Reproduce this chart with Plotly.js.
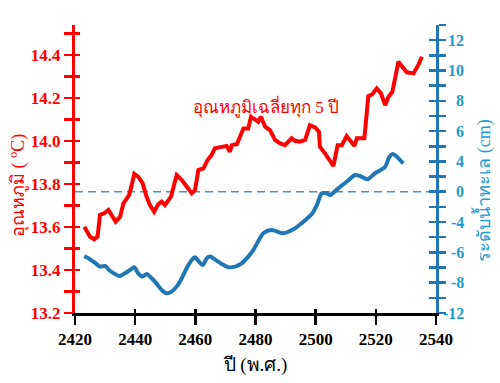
<!DOCTYPE html>
<html>
<head>
<meta charset="utf-8">
<script src="https://cdn.plot.ly/plotly-3.0.1.min.js"></script>
<style>html,body{margin:0;padding:0;background:#fff;}#chart{width:500px;height:383px;}</style>
</head>
<body>
<div id="chart"></div>
<script>
// Temperature (5-year average), deg C
const tempYears = [2423.1,2425.0,2426.4,2427.5,2428.3,2429.7,2431.1,2432.4,2433.5,2435.0,2436.1,2436.9,2438.0,2438.6,2439.7,2441.0,2442.5,2443.8,2444.9,2446.3,2447.7,2448.8,2449.9,2451.9,2453.8,2455.5,2457.1,2458.8,2459.9,2461.0,2462.7,2464.1,2465.4,2466.5,2468.8,2470.4,2471.5,2472.1,2473.8,2474.9,2476.0,2477.6,2478.5,2479.8,2480.9,2481.8,2483.2,2484.8,2486.5,2488.2,2489.8,2492.0,2493.1,2494.8,2496.5,2498.1,2499.8,2501.1,2501.4,2503.1,2505.9,2507.3,2508.7,2510.3,2511.8,2512.9,2513.7,2516.2,2517.5,2518.8,2520.3,2521.7,2523.1,2524.2,2525.5,2527.5,2528.8,2530.3,2532.5,2534.1,2535.3];
const tempValues = [13.601,13.555,13.543,13.555,13.656,13.664,13.679,13.648,13.625,13.648,13.710,13.726,13.749,13.780,13.847,13.834,13.803,13.741,13.702,13.671,13.707,13.718,13.702,13.741,13.842,13.819,13.787,13.757,13.772,13.865,13.873,13.912,13.935,13.966,13.973,13.977,13.950,13.981,13.985,14.020,14.059,14.059,14.113,14.101,14.090,14.113,14.067,14.051,14.005,13.989,13.981,14.013,14.001,13.997,14.005,14.074,14.064,14.043,13.973,13.943,13.884,13.981,13.981,14.023,13.997,13.977,14.013,14.013,14.209,14.217,14.245,14.222,14.167,14.206,14.229,14.369,14.346,14.320,14.315,14.353,14.392];

// Sea level, in the right axis' own (tick-position) units
const seaYears = [2423.1,2425.0,2426.6,2428.3,2430.0,2431.6,2433.9,2435.0,2436.6,2438.3,2439.7,2441.0,2442.5,2443.8,2445.5,2447.2,2448.8,2450.5,2452.1,2453.8,2455.5,2457.1,2458.8,2459.9,2461.2,2462.5,2463.8,2464.9,2466.5,2468.8,2471.0,2473.2,2475.4,2477.6,2479.3,2482.6,2485.4,2489.2,2492.6,2495.9,2498.7,2500.4,2502.0,2503.7,2504.8,2507.5,2510.3,2513.1,2514.7,2517.2,2519.7,2523.1,2524.5,2525.6,2527.0,2529.1];
const seaValues = [-2.24,-2.46,-2.68,-2.94,-2.90,-3.21,-3.49,-3.56,-3.38,-3.16,-2.98,-3.38,-3.60,-3.43,-3.71,-4.08,-4.48,-4.70,-4.59,-4.26,-3.71,-3.05,-2.50,-2.32,-2.61,-2.83,-2.39,-2.28,-2.46,-2.77,-2.98,-2.94,-2.72,-2.28,-1.84,-0.74,-0.52,-0.74,-0.48,0.02,0.53,1.12,1.89,1.89,1.78,2.22,2.66,3.10,3.04,2.82,3.21,3.65,4.31,4.49,4.31,3.86];

// Right axis labels as printed, at their tick positions
const seaTickVals = [12,10,8,6,4,2,0,-2,-4,-6];
const seaTickText = ['12','10','8','6','4','0','-4','-6','-8','-12'];
const seaZeroLevel = 2;

const xTicks = [2420,2440,2460,2480,2500,2520,2540];

const RED = '#ff0000';
const BLUE = '#2077b4';
const LBLUE = '#1d9bd4';
const SERIF = 'Liberation Serif, Times New Roman, serif';

const traces = [
  {x: seaYears, y: seaValues, xaxis: 'x', yaxis: 'y2', mode: 'lines',
   line: {color: BLUE, width: 4, shape: 'spline', smoothing: 0.7}, hoverinfo: 'skip'},
  {x: tempYears, y: tempValues, xaxis: 'x', yaxis: 'y', mode: 'lines',
   line: {color: RED, width: 4}, hoverinfo: 'skip'},
  {x: [], y: [], xaxis: 'x2', yaxis: 'y3', hoverinfo: 'skip'},
  {x: [], y: [], xaxis: 'x', yaxis: 'y4', hoverinfo: 'skip'}
];

const yRange = [13.2, 14.54];
const y2Range = [-6, 13];
const xRange = [2420, 2540];

const annotations = [
  {text: 'อุณหภูมิเฉลี่ยทุก 5 ปี', x: 2483.5, y: 14.163, xref: 'x', yref: 'y',
   showarrow: false, font: {family: SERIF, size: 17, color: RED}},
  {text: 'อุณหภูมิ ( <sup>o</sup>C)', x: -0.158, y: 0.444, xref: 'paper', yref: 'paper',
   xanchor: 'center', yanchor: 'middle',
   textangle: -90, showarrow: false, font: {family: SERIF, size: 18, color: RED}},
  {text: 'ระดับน้ำทะเล (cm)', x: 1.13, y: 0.424, xref: 'paper', yref: 'paper',
   xanchor: 'center', yanchor: 'middle',
   textangle: -90, showarrow: false, font: {family: SERIF, size: 18, color: LBLUE}}
];
seaTickVals.forEach((v, i) => {
  annotations.push({text: seaTickText[i], x: 1.083, y: v, xref: 'paper', yref: 'y2',
    xanchor: 'right', yanchor: 'middle', showarrow: false,
    font: {family: SERIF, size: 16, color: LBLUE, weight: 'bold'}});
});

const layout = {
  width: 500, height: 383,
  margin: {l: 75, r: 64, t: 25, b: 70, pad: 0},
  paper_bgcolor: '#ffffff', plot_bgcolor: '#ffffff',
  showlegend: false,
  font: {family: SERIF},
  xaxis: {
    range: xRange, tickvals: xTicks, ticks: 'outside', ticklen: 9, tickwidth: 2.5, tickcolor: '#000',
    showline: true, linecolor: '#000', linewidth: 3, showgrid: false, zeroline: false,
    tickfont: {family: SERIF, size: 17, color: '#000', weight: 'bold'},
    title: {text: 'ปี (พ.ศ.)', font: {family: SERIF, size: 19, color: '#000'}, standoff: 10},
    anchor: 'y'
  },
  xaxis2: {
    overlaying: 'x', anchor: 'y', side: 'bottom', range: xRange, tickvals: xTicks,
    ticks: 'inside', ticklen: 4, tickwidth: 2.5, tickcolor: '#000',
    showticklabels: false, showline: false, showgrid: false, zeroline: false
  },
  yaxis: {
    range: yRange, tick0: 13.2, dtick: 0.2, tickformat: '.1f',
    ticks: 'outside', ticklen: 8, tickwidth: 2.5, tickcolor: RED,
    minor: {dtick: 0.1, tick0: 13.2, ticks: 'outside', ticklen: 8, tickwidth: 2.5, tickcolor: RED, showgrid: false},
    showline: true, linecolor: RED, linewidth: 3, showgrid: false, zeroline: false,
    tickfont: {family: SERIF, size: 17, color: RED, weight: 'bold'}, anchor: 'x'
  },
  yaxis3: {
    overlaying: 'y', anchor: 'x', side: 'left', range: yRange, tick0: 13.2, dtick: 0.1,
    ticks: 'inside', ticklen: 5, tickwidth: 2.5, tickcolor: RED,
    showticklabels: false, showline: false, showgrid: false, zeroline: false
  },
  yaxis2: {
    overlaying: 'y', anchor: 'x', side: 'right', range: y2Range, tickvals: seaTickVals,
    ticks: 'outside', ticklen: 7, tickwidth: 2.5, tickcolor: BLUE,
    minor: {dtick: 1, tick0: 0, ticks: 'outside', ticklen: 7, tickwidth: 2.5, tickcolor: BLUE, showgrid: false},
    showticklabels: false,
    showline: true, linecolor: BLUE, linewidth: 3, showgrid: false, zeroline: false
  },
  yaxis4: {
    overlaying: 'y', anchor: 'x', side: 'right', range: y2Range, tick0: 0, dtick: 1,
    ticks: 'inside', ticklen: 7, tickwidth: 2.5, tickcolor: BLUE,
    showticklabels: false, showline: false, showgrid: false, zeroline: false
  },
  shapes: [
    {type: 'line', xref: 'paper', yref: 'y2', x0: 0, x1: 1, y0: seaZeroLevel, y1: seaZeroLevel,
     line: {color: '#4a90c8', width: 1.5, dash: '8px,5px'}, layer: 'below'}
  ],
  annotations: annotations
};

Plotly.newPlot('chart', traces, layout, {displayModeBar: false, staticPlot: true});
</script>
</body>
</html>
